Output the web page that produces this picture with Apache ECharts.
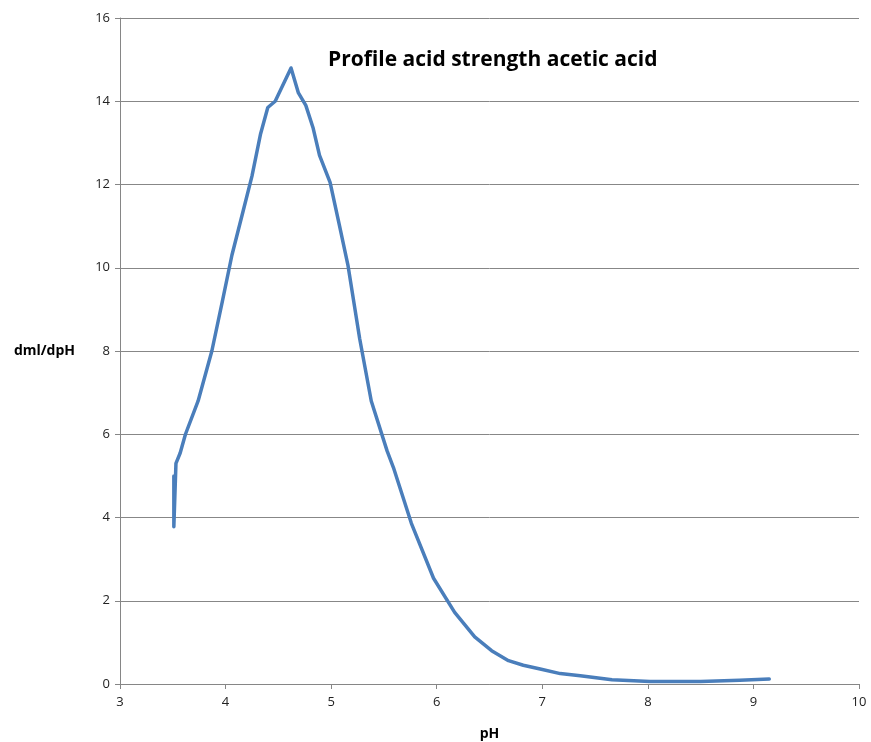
<!DOCTYPE html>
<html>
<head>
<meta charset="utf-8">
<script src="https://cdn.jsdelivr.net/npm/echarts@6/dist/echarts.min.js"></script>
<style>
html, body { margin: 0; padding: 0; background: #fff; }
#chart { width: 871px; height: 742px; }
</style>
</head>
<body>
<div id="chart"></div>
<script>
// pH values and dml/dpH
var phValues = [3.51, 3.51, 3.53, 3.57, 3.62, 3.74, 3.87, 3.97, 4.06, 4.17, 4.25, 4.33, 4.40, 4.47,
    4.62, 4.69, 4.76, 4.83, 4.89, 4.99, 5.08, 5.16, 5.27, 5.38, 5.53, 5.59, 5.76, 5.97, 6.17,
    6.36, 6.52, 6.68, 6.82, 6.98, 7.17, 7.36, 7.66, 8.02, 8.50, 8.87, 9.15];
var dmlValues = [5.0, 3.78, 5.3, 5.55, 6.0, 6.8, 8.0, 9.2, 10.3, 11.4, 12.2, 13.2, 13.85, 14.0,
    14.8, 14.2, 13.9, 13.35, 12.7, 12.05, 11.0, 10.05, 8.3, 6.8, 5.6, 5.2, 3.86, 2.54, 1.72,
    1.13, 0.8, 0.56, 0.45, 0.36, 0.25, 0.2, 0.1, 0.06, 0.06, 0.09, 0.12];

var chartTitle = 'Profile acid strength acetic acid';
var xName = 'pH';
var yName = 'dml/dpH';

var points = [];
for (var i = 0; i < phValues.length; i++) {
    points.push([phValues[i], dmlValues[i]]);
}

var chart = echarts.init(document.getElementById('chart'));
var font = '"Open Sans", "Liberation Sans", sans-serif';

chart.setOption({
    animation: false,
    grid: { left: 120, right: 12, top: 18, bottom: 58, outerBoundsMode: 'none', containLabel: false },
    graphic: [{
        type: 'text',
        left: 328,
        top: 50,
        style: { text: chartTitle, font: 'bold 21px ' + font, fill: '#000' }
    }],
    xAxis: {
        type: 'value',
        min: 3, max: 10, interval: 1,
        name: xName,
        nameLocation: 'middle',
        nameGap: 43,
        nameTextStyle: { fontFamily: font, fontWeight: 'bold', fontSize: 14, color: '#000' },
        axisLine: { lineStyle: { color: '#868686' } },
        axisTick: { show: true, inside: false, length: 5, lineStyle: { color: '#868686' } },
        axisLabel: { fontFamily: font, fontSize: 13, color: '#222', margin: 12 },
        splitLine: { show: false }
    },
    yAxis: {
        type: 'value',
        min: 0, max: 16, interval: 2,
        name: yName,
        nameLocation: 'middle',
        nameRotate: 0,
        nameGap: 45,
        nameTextStyle: { fontFamily: font, fontWeight: 'bold', fontSize: 14, color: '#000' },
        axisLine: { show: true, lineStyle: { color: '#868686' } },
        axisTick: { show: true, inside: false, length: 5, lineStyle: { color: '#868686' } },
        axisLabel: { fontFamily: font, fontSize: 13, color: '#222', margin: 10 },
        splitLine: { lineStyle: { color: '#878787', width: 1 } }
    },
    series: [{
        type: 'line',
        data: points,
        showSymbol: false,
        smooth: false,
        lineStyle: { color: '#4a7ebb', width: 3.5, cap: 'round', join: 'round' }
    }]
});
</script>
</body>
</html>
